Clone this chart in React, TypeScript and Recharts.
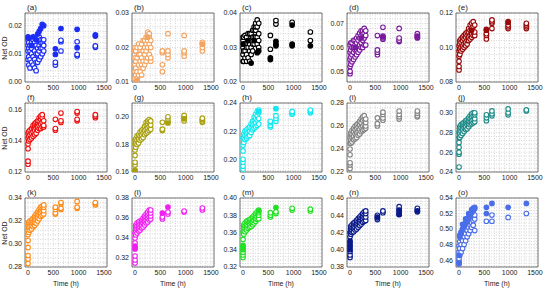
import React from 'react';
import { ScatterChart, Scatter, XAxis, YAxis, CartesianGrid, ReferenceArea } from 'recharts';

// Sampling times (h) shared by every panel
const TIMES = [0, 15, 40, 70, 100, 130, 160, 190, 220, 250, 280, 310, 540, 650, 970, 1330];

const PANEL_LETTERS = ['a', 'b', 'c', 'd', 'e', 'f', 'g', 'h', 'i', 'j', 'k', 'l', 'm', 'n', 'o'];
const PANEL_COLORS = [
  '#1b2cf5', '#f4a460', '#000000', '#7b1a9c', '#9a0a0a',
  '#f01010', '#a8a010', '#10e8f0', '#858585', '#1f8b88',
  '#ff8c1a', '#f020f0', '#22e022', '#0a1a8a', '#4a6ee8',
];
const Y_DOMAINS = [
  [0, 0.0245], [0.01, 0.03], [0.02, 0.04], [0.0455, 0.0745], [0.08, 0.12],
  [0.12, 0.1645], [0.16, 0.21], [0.191, 0.24], [0.22, 0.28], [0.24, 0.31],
  [0.28, 0.34], [0.311, 0.38], [0.32, 0.4], [0.38, 0.46], [0.451, 0.54],
];
const Y_MAJOR_TICKS = [
  [0, 0.01, 0.02], [0.01, 0.02, 0.03], [0.02, 0.03, 0.04], [0.05, 0.06, 0.07], [0.08, 0.1, 0.12],
  [0.12, 0.14, 0.16], [0.16, 0.18, 0.2], [0.2, 0.22, 0.24], [0.22, 0.24, 0.26, 0.28], [0.24, 0.26, 0.28, 0.3],
  [0.28, 0.3, 0.32, 0.34], [0.32, 0.34, 0.36, 0.38], [0.32, 0.34, 0.36, 0.38, 0.4], [0.38, 0.4, 0.42, 0.44, 0.46], [0.46, 0.48, 0.5, 0.52, 0.54],
];
const X_MAJOR_TICKS = [0, 500, 1000, 1500];

// Net OD readings per sampling time: open markers
const HOLLOW_A = [
  [0.008, 0.011, 0.013, 0.015], [0.006, 0.009, 0.012, 0.014], [0.005, 0.008, 0.011, 0.013], [0.007, 0.01, 0.012, 0.014],
  [0.006, 0.009, 0.013, 0.015], [0.005, 0.008, 0.011, 0.014], [0.004, 0.007, 0.01, 0.013], [0.007, 0.01, 0.012, 0.015],
  [0.008, 0.011, 0.013, 0.016], [0.009, 0.012, 0.014, 0.015], [0.01, 0.012, 0.014, 0.015], [0.011, 0.013, 0.015],
  [0.006, 0.007], [0.011, 0.0143, 0.0148], [0.0093, 0.0098, 0.0143], [0.0123, 0.0128],
];
const HOLLOW_B = [
  [0.011, 0.013, 0.015, 0.017, 0.019, 0.02], [0.012, 0.014, 0.016, 0.019], [0.011, 0.013, 0.017, 0.02], [0.012, 0.015, 0.018, 0.021],
  [0.013, 0.016, 0.018, 0.02], [0.012, 0.015, 0.017, 0.021], [0.014, 0.016, 0.019, 0.022], [0.015, 0.018, 0.02, 0.022],
  [0.016, 0.019, 0.021, 0.023], [0.017, 0.02, 0.022, 0.0245], [0.018, 0.021, 0.023, 0.024], [0.016, 0.017, 0.02, 0.022],
  [0.013, 0.015, 0.0185, 0.019], [0.017, 0.018, 0.019, 0.024], [0.0175, 0.0185, 0.019, 0.0235], [0.019, 0.02, 0.021, 0.0215],
];
const HOLLOW_C = [
  [0.026, 0.028, 0.03, 0.032, 0.033], [0.026, 0.029, 0.031, 0.033], [0.027, 0.029, 0.031, 0.0335], [0.026, 0.028, 0.03, 0.033],
  [0.027, 0.03, 0.032, 0.034], [0.026, 0.029, 0.031, 0.034], [0.028, 0.03, 0.032, 0.034], [0.029, 0.031, 0.033, 0.035],
  [0.031, 0.033, 0.035, 0.036], [0.033, 0.035, 0.036, 0.037], [0.031, 0.033, 0.036, 0.038], [0.03, 0.032, 0.034, 0.037],
  [0.0295, 0.0335], [0.0368, 0.0378], [0.0373], [0.032, 0.0345],
];
const HOLLOW_D = [
  [0.049, 0.05, 0.052, 0.055, 0.058, 0.061], [0.053, 0.056, 0.059, 0.062], [0.054, 0.057, 0.06, 0.062], [0.055, 0.058, 0.06, 0.063],
  [0.056, 0.059, 0.061, 0.063], [0.057, 0.059, 0.062, 0.064], [0.058, 0.06, 0.063, 0.065], [0.059, 0.061, 0.064, 0.066],
  [0.06, 0.062, 0.065, 0.067], [0.06, 0.063, 0.066, 0.067], [0.061, 0.064, 0.066, 0.068], [0.061, 0.065, 0.067],
  [0.057, 0.058, 0.059, 0.065], [0.0635, 0.064, 0.0648, 0.0685], [0.0625, 0.063, 0.064, 0.068], [0.064, 0.0643, 0.065, 0.0658],
];
const HOLLOW_E = [
  [0.087, 0.089, 0.092, 0.095, 0.098, 0.101], [0.096, 0.099, 0.102, 0.104], [0.098, 0.1, 0.103, 0.105], [0.099, 0.101, 0.104, 0.106],
  [0.1, 0.102, 0.105, 0.107], [0.101, 0.103, 0.106, 0.108], [0.102, 0.104, 0.107, 0.109], [0.104, 0.106, 0.109, 0.111],
  [0.105, 0.107, 0.11, 0.113], [0.106, 0.108, 0.111, 0.114], [0.107, 0.109, 0.112, 0.115], [0.107, 0.109, 0.113],
  [0.105, 0.107, 0.108, 0.11], [0.111, 0.114, 0.115, 0.116], [0.111, 0.112, 0.113, 0.115], [0.111, 0.112, 0.113, 0.114],
];
const HOLLOW_F = [
  [0.125, 0.127, 0.135, 0.138, 0.142, 0.145], [0.14, 0.143, 0.146], [0.141, 0.144, 0.147], [0.142, 0.145, 0.148],
  [0.143, 0.146, 0.149, 0.15], [0.144, 0.147, 0.15, 0.151], [0.145, 0.148, 0.151, 0.152], [0.147, 0.149, 0.152, 0.153],
  [0.148, 0.15, 0.153, 0.155], [0.148, 0.151, 0.154, 0.156], [0.149, 0.152, 0.155, 0.157], [0.149, 0.15, 0.153],
  [0.147, 0.148, 0.154], [0.152, 0.153, 0.158], [0.153, 0.154, 0.158, 0.159], [0.155, 0.156, 0.157],
];
const HOLLOW_G = [
  [0.161, 0.165, 0.167, 0.172, 0.176, 0.18, 0.183], [0.178, 0.181, 0.184], [0.18, 0.183, 0.186], [0.181, 0.184, 0.187],
  [0.183, 0.186, 0.189], [0.184, 0.187, 0.19], [0.185, 0.188, 0.191], [0.187, 0.19, 0.193],
  [0.188, 0.191, 0.194, 0.196], [0.189, 0.192, 0.195, 0.197], [0.19, 0.193, 0.196, 0.198], [0.191, 0.194, 0.197],
  [0.19, 0.191, 0.196], [0.196, 0.198, 0.2], [0.197, 0.199, 0.2, 0.201], [0.196, 0.197, 0.198, 0.199],
];
const HOLLOW_H = [
  [0.193, 0.195, 0.198, 0.2, 0.206, 0.21, 0.215], [0.212, 0.215, 0.218], [0.214, 0.217, 0.22], [0.215, 0.218, 0.221],
  [0.216, 0.219, 0.222], [0.217, 0.22, 0.223], [0.219, 0.222, 0.225], [0.221, 0.224, 0.227],
  [0.222, 0.225, 0.228, 0.23], [0.223, 0.226, 0.229, 0.232], [0.224, 0.228, 0.231, 0.234], [0.225, 0.229, 0.233, 0.235],
  [0.223, 0.224, 0.226, 0.227], [0.227, 0.229, 0.231], [0.232, 0.233, 0.234], [0.233, 0.234, 0.235],
];
const HOLLOW_I = [
  [0.223, 0.226, 0.228, 0.235, 0.24, 0.245, 0.25], [0.245, 0.248, 0.252, 0.254], [0.246, 0.25, 0.253, 0.256], [0.248, 0.251, 0.255, 0.258],
  [0.249, 0.253, 0.257, 0.26], [0.25, 0.254, 0.258, 0.261], [0.252, 0.255, 0.259, 0.262], [0.253, 0.257, 0.261, 0.264],
  [0.255, 0.259, 0.263, 0.266], [0.256, 0.26, 0.265, 0.268], [0.257, 0.261, 0.266, 0.269], [0.258, 0.26, 0.263, 0.266],
  [0.26, 0.262, 0.267], [0.265, 0.267, 0.27, 0.272], [0.266, 0.268, 0.27, 0.273], [0.268, 0.269, 0.271, 0.273],
];
const HOLLOW_J = [
  [0.245, 0.258, 0.26, 0.265, 0.27, 0.275, 0.28], [0.275, 0.279, 0.283, 0.286], [0.277, 0.281, 0.285, 0.288], [0.279, 0.283, 0.287, 0.289],
  [0.281, 0.285, 0.288, 0.29], [0.283, 0.286, 0.29, 0.292], [0.284, 0.288, 0.291, 0.293], [0.286, 0.289, 0.292, 0.295],
  [0.288, 0.291, 0.294, 0.297], [0.289, 0.292, 0.296, 0.299], [0.29, 0.293, 0.297, 0.3], [0.291, 0.294, 0.298, 0.3],
  [0.292, 0.295, 0.298], [0.297, 0.299, 0.302], [0.298, 0.3, 0.304], [0.302, 0.303],
];
const HOLLOW_K = [
  [0.283, 0.287, 0.29, 0.297, 0.303, 0.308, 0.312], [0.31, 0.314, 0.317, 0.319], [0.312, 0.315, 0.318, 0.32], [0.313, 0.316, 0.319, 0.321],
  [0.315, 0.318, 0.32, 0.322], [0.316, 0.319, 0.322, 0.324], [0.318, 0.321, 0.324, 0.326], [0.32, 0.323, 0.326, 0.328],
  [0.322, 0.325, 0.328, 0.33], [0.324, 0.327, 0.33, 0.332], [0.325, 0.328, 0.331, 0.333], [0.326, 0.329, 0.332, 0.334],
  [0.326, 0.327, 0.33, 0.332], [0.33, 0.331, 0.335, 0.336], [0.331, 0.332, 0.337], [0.334, 0.335, 0.336],
];
const HOLLOW_L = [
  [0.315, 0.318, 0.322, 0.33, 0.335, 0.34, 0.345], [0.343, 0.347, 0.35, 0.353], [0.345, 0.349, 0.352, 0.355], [0.347, 0.35, 0.353, 0.356],
  [0.348, 0.351, 0.354, 0.357], [0.35, 0.353, 0.356, 0.358], [0.351, 0.355, 0.358, 0.36], [0.353, 0.357, 0.36, 0.362],
  [0.355, 0.358, 0.361, 0.364], [0.356, 0.36, 0.363, 0.366], [0.358, 0.361, 0.364, 0.368], [0.359, 0.362, 0.365, 0.368],
  [0.359, 0.361], [0.364, 0.366], [0.366, 0.367], [0.368, 0.37],
];
const HOLLOW_M = [
  [0.331, 0.334, 0.337, 0.342, 0.345, 0.352, 0.36], [0.358, 0.362, 0.366, 0.369], [0.361, 0.365, 0.368, 0.371], [0.363, 0.367, 0.37, 0.373],
  [0.365, 0.368, 0.372, 0.374], [0.366, 0.37, 0.373, 0.375], [0.367, 0.371, 0.374, 0.376], [0.369, 0.372, 0.376, 0.378],
  [0.371, 0.374, 0.378, 0.38], [0.373, 0.376, 0.38, 0.382], [0.375, 0.378, 0.382, 0.384], [0.376, 0.38, 0.383, 0.386],
  [0.378, 0.38, 0.383], [0.382, 0.384], [0.386, 0.388], [0.385, 0.387],
];
const HOLLOW_N = [
  [0.391, 0.394, 0.398, 0.403, 0.408, 0.415, 0.42], [0.418, 0.421, 0.424, 0.427], [0.42, 0.423, 0.426, 0.429], [0.421, 0.425, 0.428, 0.431],
  [0.423, 0.426, 0.43, 0.432], [0.424, 0.428, 0.431, 0.434], [0.426, 0.43, 0.433, 0.436], [0.428, 0.432, 0.435, 0.438],
  [0.43, 0.434, 0.437, 0.44], [0.432, 0.436, 0.439, 0.442], [0.433, 0.437, 0.441, 0.444], [0.434, 0.438, 0.442, 0.445],
  [0.435, 0.437, 0.44], [0.443, 0.445], [0.441, 0.443, 0.446, 0.45], [0.444, 0.446, 0.448],
];
const HOLLOW_O = [
  [0.455, 0.458, 0.462, 0.47, 0.478], [0.466, 0.475, 0.484, 0.492], [0.47, 0.48, 0.488, 0.496], [0.475, 0.485, 0.492, 0.5],
  [0.48, 0.49, 0.497, 0.503], [0.485, 0.494, 0.5, 0.507], [0.49, 0.498, 0.504, 0.51], [0.494, 0.502, 0.508, 0.513],
  [0.498, 0.505, 0.511, 0.516], [0.502, 0.508, 0.514, 0.518], [0.505, 0.511, 0.516, 0.52], [0.498, 0.513, 0.518],
  [0.51], [0.51, 0.518], [0.515], [0.52],
];

// Net OD readings per sampling time: filled markers
const SOLID_A = [
  [0.016], [0.0155], [], [0.013], [0.016], [], [0.015], [0.017],
  [0.018], [0.019], [0.0205], [0.02],
  [0.0098, 0.0118], [0.019], [0.0122, 0.0187], [0.0163, 0.0167],
];
const SOLID_B = [[], [], [0.0105], [], [], [], [], [], [], [0.023], [], [], [], [], [], [0.021]];
const SOLID_C = [
  [0.031], [], [], [], [0.032], [], [0.0255], [],
  [0.032], [], [0.0285], [0.029], [0.0265, 0.027], [0.0305, 0.031, 0.0318], [0.0305, 0.031, 0.0365], [0.0305],
];
const SOLID_D = [[], [], [], [], [0.06], [], [], [], [0.064], [], [], [], [], [0.0645], [], [0.0648]];
const SOLID_E = [[], [], [], [], [], [], [], [], [], [0.11], [], [], [0.1105], [], [0.1145], []];
const SOLID_F = [[], [], [], [], [], [], [], [], [], [], [], [], [], [], [], []];
const SOLID_G = [[0.161], [], [], [], [], [], [], [], [], [], [], [], [], [0.1955], [0.1985], []];
const SOLID_H = [[], [], [], [], [], [], [], [], [], [], [], [0.234], [], [0.236], [], []];
const SOLID_I = [[], [], [], [], [], [], [], [], [], [], [], [], [], [], [], []];
const SOLID_J = [[], [], [], [], [], [], [], [], [], [], [], [], [], [], [], []];
const SOLID_K = [[], [], [], [], [], [], [], [], [], [], [], [], [], [], [], []];
const SOLID_L = [[0.329, 0.332], [], [], [], [], [], [], [], [], [], [], [], [0.365], [0.371], [], []];
const SOLID_M = [[0.34, 0.344], [], [], [], [], [], [], [], [], [], [], [0.385], [], [0.389], [], []];
const SOLID_N = [[0.4, 0.405, 0.41], [], [], [], [], [], [], [], [], [], [], [], [0.438], [], [0.441, 0.446], [0.445]];
const SOLID_O = [
  [0.456, 0.466], [0.49], [0.495], [0.5, 0.506],
  [0.505], [0.508, 0.513], [0.512], [0.515, 0.52],
  [0.518], [0.521, 0.525], [0.524, 0.527], [0.526, 0.528],
  [0.52, 0.528], [0.533], [0.528], [0.533],
];

const HOLLOW = [HOLLOW_A, HOLLOW_B, HOLLOW_C, HOLLOW_D, HOLLOW_E, HOLLOW_F, HOLLOW_G, HOLLOW_H, HOLLOW_I, HOLLOW_J, HOLLOW_K, HOLLOW_L, HOLLOW_M, HOLLOW_N, HOLLOW_O];
const SOLID = [SOLID_A, SOLID_B, SOLID_C, SOLID_D, SOLID_E, SOLID_F, SOLID_G, SOLID_H, SOLID_I, SOLID_J, SOLID_K, SOLID_L, SOLID_M, SOLID_N, SOLID_O];

// Layout of the 3x5 grid of panels (plot frame positions)
const FRAME_LEFT = [25, 132, 240, 347, 456];
const FRAME_TOP = [13, 103, 198];
const FRAME_W = 82;
const FRAME_H = 69;
const Y_AXIS_W = 30;
const PAD_TOP = 6;
const PAD_RIGHT = 8;
const X_DOMAIN: [number, number] = [-60, 1560];
const FONT = '"Liberation Sans", Arial, sans-serif';

function gridTicks(lo: number, hi: number, step: number) {
  const out: number[] = [];
  const start = Math.ceil(lo / step - 1e-9);
  for (let k = start; k * step <= hi + 1e-9; k++) out.push(+(k * step).toFixed(6));
  return out;
}

function toPoints(rows: number[][]) {
  return TIMES.flatMap((t, i) => (rows[i] || []).map((v) => ({ t, v })));
}

const marker = (color: string, fill: string) => (props: any) => (
  <circle cx={props.cx} cy={props.cy} r={2.3} fill={fill} stroke={color} strokeWidth={1.1} />
);

function Panel({ index }: { index: number }) {
  const row = Math.floor(index / 5);
  const col = index % 5;
  const color = PANEL_COLORS[index];
  const [y0, y1] = Y_DOMAINS[index];
  const majors = Y_MAJOR_TICKS[index];
  const yStep = (majors[1] - majors[0]) / 5;
  const yTicks = gridTicks(y0, y1, yStep);
  const xTicks = gridTicks(X_DOMAIN[0], X_DOMAIN[1], 100);
  const isMajorY = (v: number) => majors.some((m) => Math.abs(m - v) < yStep / 10);

  return (
    <div style={{ position: 'absolute', left: FRAME_LEFT[col] - Y_AXIS_W, top: FRAME_TOP[row] - PAD_TOP }}>
      <ScatterChart
        width={Y_AXIS_W + FRAME_W + PAD_RIGHT}
        height={PAD_TOP + FRAME_H + 20}
        margin={{ top: PAD_TOP, right: PAD_RIGHT, bottom: 0, left: 0 }}
      >
        <CartesianGrid stroke="#c4c4c4" strokeDasharray="1 1.5" strokeWidth={0.7} />
        <XAxis
          type="number"
          dataKey="t"
          domain={X_DOMAIN}
          ticks={xTicks}
          interval={0}
          allowDataOverflow
          axisLine={false}
          tickLine={false}
          tickSize={2}
          tickMargin={1}
          height={20}
          tick={{ fill: '#222', fontSize: 7, fontFamily: FONT }}
          tickFormatter={(v: number) => (X_MAJOR_TICKS.includes(v) ? String(v) : '')}
        />
        <YAxis
          type="number"
          dataKey="v"
          domain={[y0, y1]}
          ticks={yTicks}
          interval={0}
          allowDataOverflow
          axisLine={false}
          tickLine={false}
          tickSize={2}
          tickMargin={1}
          width={Y_AXIS_W}
          tick={{ fill: '#222', fontSize: 7, fontFamily: FONT }}
          tickFormatter={(v: number) => (isMajorY(v) ? v.toFixed(2) : '')}
        />
        <ReferenceArea x1={X_DOMAIN[0]} x2={X_DOMAIN[1]} y1={y0} y2={y1} fill="none" stroke="#555" strokeWidth={0.8} />
        <Scatter data={toPoints(HOLLOW[index])} shape={marker(color, '#fff')} isAnimationActive={false} />
        <Scatter data={toPoints(SOLID[index])} shape={marker(color, color)} isAnimationActive={false} />
      </ScatterChart>
      <div
        style={{
          position: 'absolute',
          left: Y_AXIS_W + 2,
          top: PAD_TOP - 10,
          height: 9,
          lineHeight: '9px',
          fontSize: 8,
          fontFamily: FONT,
          color: '#222',
        }}
      >
        ({PANEL_LETTERS[index]})
      </div>
    </div>
  );
}

export default function App() {
  return (
    <div style={{ position: 'absolute', left: 0, top: 0, width: 546, height: 291, background: '#fff', overflow: 'hidden' }}>
      {PANEL_LETTERS.map((_, i) => (
        <Panel key={i} index={i} />
      ))}
      {FRAME_TOP.map((top, r) => (
        <div
          key={'ylab' + r}
          style={{
            position: 'absolute',
            left: 5 - 20,
            top: top + FRAME_H / 2 - 5,
            width: 40,
            height: 10,
            lineHeight: '10px',
            textAlign: 'center',
            fontSize: 7,
            fontFamily: FONT,
            color: '#222',
            transform: 'rotate(-90deg)',
          }}
        >
          Net OD
        </div>
      ))}
      {FRAME_LEFT.map((left, c) => (
        <div
          key={'xlab' + c}
          style={{
            position: 'absolute',
            left: left,
            top: 280,
            width: FRAME_W,
            textAlign: 'center',
            fontSize: 7,
            fontFamily: FONT,
            color: '#222',
          }}
        >
          Time (h)
        </div>
      ))}
    </div>
  );
}
